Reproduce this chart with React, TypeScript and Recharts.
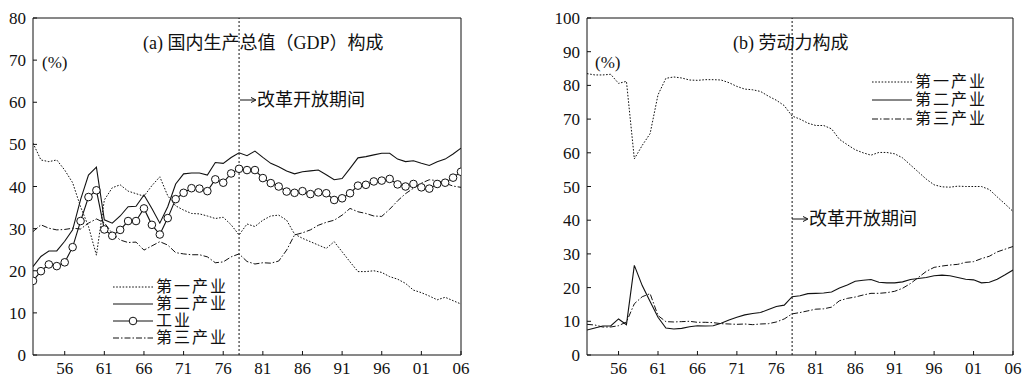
import { Line, LineChart, ReferenceLine, XAxis, YAxis } from 'recharts'

const years = [
  1952, 1953, 1954, 1955, 1956, 1957, 1958, 1959, 1960, 1961, 1962, 1963, 1964, 1965,
  1966, 1967, 1968, 1969, 1970, 1971, 1972, 1973, 1974, 1975, 1976, 1977, 1978, 1979,
  1980, 1981, 1982, 1983, 1984, 1985, 1986, 1987, 1988, 1989, 1990, 1991, 1992, 1993,
  1994, 1995, 1996, 1997, 1998, 1999, 2000, 2001, 2002, 2003, 2004, 2005, 2006,
]

// (a) GDP composition, %
const gdpPrimary = [
  50.3, 46.3, 45.9, 46.3, 43.9, 40.9, 35.2, 30.5, 23.7, 36.8, 39.7, 40.4, 38.9, 38.3, 37.7, 40.2, 42.3, 37.8, 35.4,
  34.4, 33.6, 33.5, 33.0, 32.4, 32.7, 30.9, 28.5, 31.1, 30.5, 32.0, 33.0, 33.2, 32.0, 28.7, 27.7, 26.9, 26.1,
  25.3, 26.9, 24.5, 22.1, 19.8, 19.8, 20.0, 19.6, 18.6, 18.0, 17.0, 15.4, 14.8, 14.0, 13.1, 13.7, 12.9, 12.1,
]
const gdpSecondary = [
  21.0, 23.4, 24.7, 24.7, 27.0, 29.7, 36.9, 42.7, 44.6, 32.1, 31.3, 33.0, 35.2, 35.3, 38.0, 34.8, 31.3, 35.2, 40.6,
  43.0, 43.2, 43.2, 42.7, 45.7, 45.5, 46.9, 48.0, 47.3, 48.4, 46.9, 45.5, 44.7, 43.7, 43.0, 43.5, 43.7, 43.9,
  42.8, 41.6, 41.9, 44.3, 46.8, 47.1, 47.5, 47.9, 47.9, 46.5, 45.9, 46.1, 45.5, 45.0, 45.9, 46.5, 47.7, 49.1,
]
const gdpIndustry = [
  17.6, 19.9, 21.5, 21.1, 22.0, 25.6, 31.8, 37.5, 39.1, 29.8, 28.3, 29.7, 31.8, 31.8, 34.8, 30.9, 28.6, 32.5, 37.0,
  38.5, 39.6, 39.5, 38.9, 41.7, 40.9, 43.1, 44.2, 43.9, 43.9, 42.0, 40.8, 40.0, 38.8, 38.5, 38.9, 38.2, 38.6,
  38.4, 36.8, 37.2, 38.4, 40.2, 40.4, 41.2, 41.4, 41.8, 40.5, 40.0, 40.6, 39.8, 39.5, 40.6, 40.9, 42.1, 43.5,
]
const gdpTertiary = [
  29.3, 30.9, 30.1, 29.7, 29.8, 30.1, 29.9, 31.3, 32.3, 31.4, 28.9, 27.3, 26.7, 26.8, 24.9, 25.9, 26.9, 26.1, 24.3,
  24.0, 23.8, 23.8, 23.3, 21.9, 22.1, 23.3, 24.0, 22.2, 21.6, 21.9, 21.8, 22.3, 24.9, 28.5, 29.0, 29.7, 30.8,
  31.5, 32.0, 33.2, 34.8, 34.0, 33.6, 33.0, 32.9, 34.6, 36.6, 38.3, 39.6, 40.8, 41.6, 41.4, 40.8, 40.1, 39.8,
]

// (b) labour composition, %
const laborPrimary = [
  83.5, 83.1, 83.1, 83.3, 80.6, 81.2, 58.2, 62.2, 65.7, 77.2, 82.1, 82.5, 82.2, 81.6, 81.5, 81.7, 81.7, 81.6, 80.8,
  79.7, 78.9, 78.7, 78.2, 76.8, 75.6, 74.0, 70.9, 70.0, 68.8, 68.1, 68.1, 67.1, 64.0, 62.4, 60.9, 60.0, 59.3,
  60.1, 60.1, 59.7, 58.5, 56.4, 54.3, 52.2, 50.5, 49.9, 49.8, 50.1, 50.0, 50.0, 50.0, 49.1, 46.9, 44.8, 42.6,
]
const laborSecondary = [
  7.4, 8.0, 8.6, 8.6, 10.7, 9.0, 26.6, 20.6, 15.9, 11.2, 8.0, 7.7, 7.9, 8.4, 8.7, 8.6, 8.7, 9.4, 10.4,
  11.2, 11.9, 12.3, 12.6, 13.5, 14.4, 14.8, 17.3, 17.6, 18.2, 18.3, 18.4, 18.7, 19.9, 20.8, 21.9, 22.2, 22.4,
  21.6, 21.4, 21.4, 21.7, 22.4, 22.7, 23.0, 23.5, 23.7, 23.5, 23.0, 22.5, 22.3, 21.4, 21.6, 22.5, 23.8, 25.2,
]
const laborTertiary = [
  9.1, 8.9, 8.3, 8.3, 8.7, 9.8, 15.2, 17.3, 18.2, 11.7, 9.9, 9.8, 9.9, 10.0, 9.7, 9.7, 9.6, 9.3, 9.2,
  9.1, 9.2, 9.0, 9.2, 9.3, 9.8, 10.7, 12.2, 12.6, 13.1, 13.6, 13.7, 14.2, 16.1, 16.8, 17.2, 17.8, 18.3,
  18.3, 18.5, 18.9, 19.8, 21.2, 23.0, 24.8, 26.0, 26.4, 26.7, 26.9, 27.5, 27.7, 28.6, 29.3, 30.6, 31.4, 32.2,
]

const yearTicks = [1956, 1961, 1966, 1971, 1976, 1981, 1986, 1991, 1996, 2001, 2006]
const gdpTicks = [0, 10, 20, 30, 40, 50, 60, 70, 80]
const laborTicks = [0, 10, 20, 30, 40, 50, 60, 70, 80, 90, 100]
const reformYear = 1978

const gdpData = years.map((year, i) => ({
  year,
  primary: gdpPrimary[i],
  secondary: gdpSecondary[i],
  industry: gdpIndustry[i],
  tertiary: gdpTertiary[i],
}))
const laborData = years.map((year, i) => ({
  year,
  primary: laborPrimary[i],
  secondary: laborSecondary[i],
  tertiary: laborTertiary[i],
}))

const INK = '#111'
const SERIF = "'Liberation Serif', 'DejaVu Serif', serif"
const TEXT_FONT = "'Liberation Serif', 'Noto Sans CJK SC', serif"
const DOTTED = '1.6 1.6'
const DASHDOT = '6 2 1.5 2'
const tickFont = { fill: INK, fontSize: 17, fontFamily: SERIF }
const yearLabel = (v: number) => String(v % 100).padStart(2, '0')

// box frame: bottom/left labelled axes, top/right bare axes, all with inward ticks
const frameAxes = (yTicks: number[], yMax: number, yWidth: number) => [
  <XAxis
    key="xb"
    dataKey="year"
    type="number"
    domain={[1952, 2006]}
    ticks={yearTicks}
    tickFormatter={yearLabel}
    tick={tickFont}
    stroke={INK}
    tickSize={-4}
    tickMargin={11}
    height={22}
    interval={0}
    allowDataOverflow
  />,
  <XAxis
    key="xt"
    xAxisId="top"
    orientation="top"
    dataKey="year"
    type="number"
    domain={[1952, 2006]}
    ticks={yearTicks}
    tick={false}
    stroke={INK}
    tickSize={-4}
    height={2}
    interval={0}
  />,
  <YAxis
    key="yl"
    type="number"
    domain={[0, yMax]}
    ticks={yTicks}
    tick={tickFont}
    stroke={INK}
    tickSize={-4}
    tickMargin={11}
    width={yWidth}
    interval={0}
  />,
  <YAxis
    key="yr"
    yAxisId="right"
    orientation="right"
    type="number"
    domain={[0, yMax]}
    ticks={yTicks}
    tick={false}
    stroke={INK}
    tickSize={-4}
    width={10}
    interval={0}
  />,
]

const Swatch = ({ dash, marker }: { dash?: string; marker?: boolean }) => (
  <svg width={40} height={12} style={{ display: 'block' }}>
    <line x1={0} x2={40} y1={6} y2={6} stroke={INK} strokeWidth={1} strokeDasharray={dash} />
    {marker && <circle cx={20} cy={6} r={3.8} fill="#fff" stroke={INK} />}
  </svg>
)

const LegendRow = ({ x, y, label, dash, marker }: { x: number; y: number; label: string; dash?: string; marker?: boolean }) => (
  <div style={{ position: 'absolute', left: x, top: y - 8, height: 16, display: 'flex', alignItems: 'center', gap: 3 }}>
    <Swatch dash={dash} marker={marker} />
    <span style={{ fontSize: 16, lineHeight: '16px', letterSpacing: 2 }}>{label}</span>
  </div>
)

const Note = ({ x, y, size, children }: { x: number; y: number; size: number; children: string }) => (
  <div style={{ position: 'absolute', left: x, top: y - size / 2, fontSize: size, lineHeight: `${size}px`, whiteSpace: 'nowrap' }}>
    {children}
  </div>
)

const ArrowNote = ({ x, y, children }: { x: number; y: number; children: string }) => (
  <div style={{ position: 'absolute', left: x, top: y - 9, height: 18, display: 'flex', alignItems: 'center' }}>
    <svg width={17} height={10} style={{ display: 'block' }}>
      <line x1={0} x2={15} y1={5} y2={5} stroke={INK} strokeWidth={1} />
      <path d="M11,2.5 L16,5 L11,7.5" fill="none" stroke={INK} strokeWidth={1} />
    </svg>
    <span style={{ fontSize: 18, lineHeight: '18px', whiteSpace: 'nowrap' }}>{children}</span>
  </div>
)

export default function App() {
  return (
    <div
      style={{
        position: 'absolute',
        left: 0,
        top: 0,
        width: 1030,
        height: 380,
        background: '#fff',
        color: INK,
        fontFamily: TEXT_FONT,
      }}
    >
      <div style={{ position: 'absolute', left: 0, top: 0 }}>
        <LineChart width={515} height={380} data={gdpData} margin={{ top: 16, right: 44, bottom: 3, left: 0 }}>
          {frameAxes(gdpTicks, 80, 33)}
          <ReferenceLine x={reformYear} stroke={INK} strokeDasharray="2 2" />
          <Line dataKey="primary" stroke={INK} strokeWidth={1} strokeDasharray={DOTTED} dot={false} activeDot={false} isAnimationActive={false} />
          <Line dataKey="tertiary" stroke={INK} strokeWidth={1} strokeDasharray={DASHDOT} dot={false} activeDot={false} isAnimationActive={false} />
          <Line dataKey="secondary" stroke={INK} strokeWidth={1.1} dot={false} activeDot={false} isAnimationActive={false} />
          <Line
            dataKey="industry"
            stroke={INK}
            strokeWidth={1.1}
            dot={{ r: 3.8, fill: '#fff', stroke: INK, strokeWidth: 1 }}
            activeDot={false}
            isAnimationActive={false}
          />
        </LineChart>
      </div>

      <div style={{ position: 'absolute', left: 520, top: 0 }}>
        <LineChart width={510} height={380} data={laborData} margin={{ top: 16, right: 7, bottom: 3, left: 27 }}>
          {frameAxes(laborTicks, 100, 40)}
          <ReferenceLine x={reformYear} stroke={INK} strokeDasharray="2 2" />
          <Line dataKey="primary" stroke={INK} strokeWidth={1} strokeDasharray={DOTTED} dot={false} activeDot={false} isAnimationActive={false} />
          <Line dataKey="tertiary" stroke={INK} strokeWidth={1} strokeDasharray={DASHDOT} dot={false} activeDot={false} isAnimationActive={false} />
          <Line dataKey="secondary" stroke={INK} strokeWidth={1.1} dot={false} activeDot={false} isAnimationActive={false} />
        </LineChart>
      </div>

      <Note x={143} y={43} size={18}>(a) 国内生产总值（GDP）构成</Note>
      <Note x={42} y={62} size={17}>(%)</Note>
      <ArrowNote x={240} y={100}>改革开放期间</ArrowNote>
      <LegendRow x={113} y={287} label="第一产业" dash={DOTTED} />
      <LegendRow x={113} y={304} label="第二产业" />
      <LegendRow x={113} y={321} label="工业" marker />
      <LegendRow x={113} y={338} label="第三产业" dash={DASHDOT} />

      <Note x={733} y={43} size={18}>(b) 劳动力构成</Note>
      <Note x={595} y={62} size={17}>(%)</Note>
      <ArrowNote x={792} y={219}>改革开放期间</ArrowNote>
      <LegendRow x={872} y={82} label="第一产业" dash={DOTTED} />
      <LegendRow x={872} y={100} label="第二产业" />
      <LegendRow x={872} y={119} label="第三产业" dash={DASHDOT} />
    </div>
  )
}
